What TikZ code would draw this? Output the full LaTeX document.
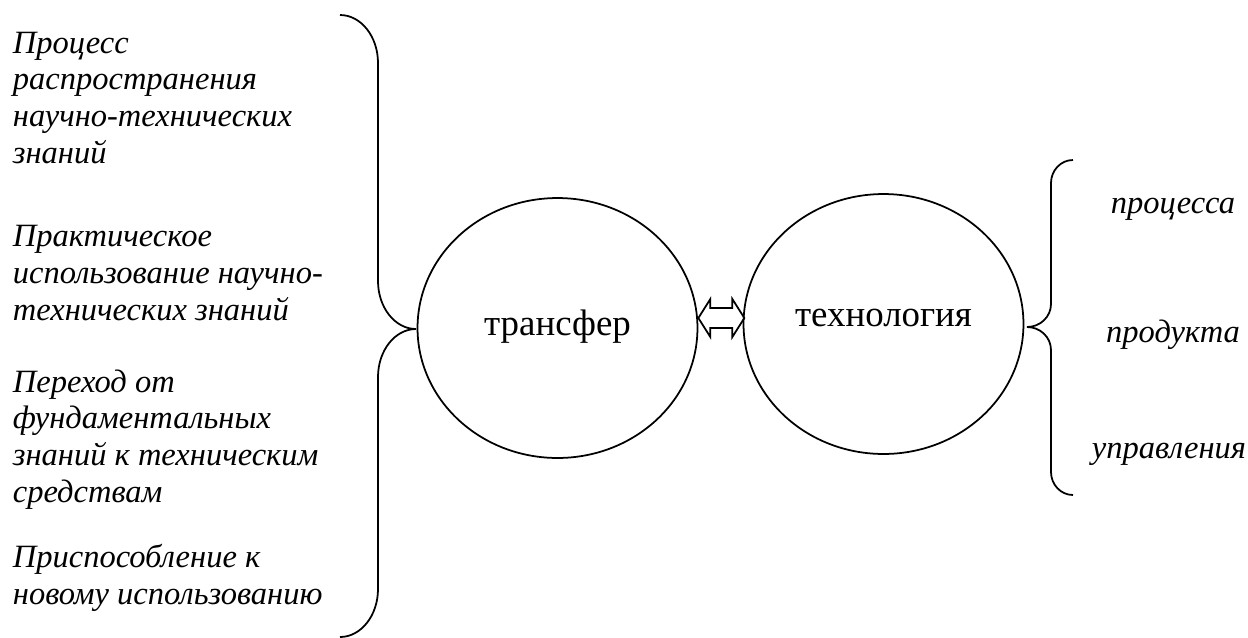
\documentclass[tikz,border=0pt]{standalone}
\usepackage{fontspec}
\setmainfont{Liberation Serif}
\usetikzlibrary{calc,shapes.geometric}
\tikzset{
  bubble/.style={draw, ellipse, minimum width=5.6cm, minimum height=5.2cm, inner sep=0pt, font=\fontsize{21}{25}\selectfont},
  sidetext/.style={font=\fontsize{18.5}{20.8}\selectfont\itshape, align=left, inner sep=0pt, anchor=base west},
  kindtext/.style={font=\fontsize{18.5}{20.8}\selectfont\itshape, inner sep=0pt, anchor=base},
}

\begin{document}
\begin{tikzpicture}[x=0.02cm, y=-0.02cm, line width=1pt]
		%%%%% START %%%%%
		\useasboundingbox (0,0) rectangle (1248,637);
		
		\node[bubble] (tr) at (557.5,328) {\raisebox{0.22cm}{трансфер}};
		\node[bubble] (th) at (883.5,324) {\raisebox{0.24cm}{технология}};
		
		% left column (anchored at the last line)
		\node[sidetext] (p1) at (12,163) {Процесс\\распространения\\научно-технических\\знаний};
		\node[sidetext] (p2) at (12,320) {Практическое\\использование научно-\\технических знаний};
		\node[sidetext] (p3) at (12,502) {Переход от\\фундаментальных\\знаний к техническим\\средствам};
		\node[sidetext] (p4) at (12,604) {Приспособление к\\новому использованию};
		
		% right column
		\node[kindtext] (k1) at (1173,213) {процесса};
		\node[kindtext] (k2) at (1173,342) {продукта};
		\node[kindtext] (k3) at (1169,458) {управления};
		
		% left brace
		\draw (340,15) arc[start angle=-90, end angle=0, x radius=38, y radius=48]
			-- (378,281) arc[start angle=180, end angle=90, x radius=38, y radius=48] coordinate (ltip)
			arc[start angle=-90, end angle=-180, x radius=38, y radius=48]
			-- (378,589) arc[start angle=0, end angle=90, x radius=38, y radius=48];
		
		% right brace
		\draw (1073,160) arc[start angle=-90, end angle=-180, x radius=22, y radius=23]
			-- (1051,304) arc[start angle=0, end angle=90, x radius=24, y radius=23] coordinate (rtip)
			arc[start angle=-90, end angle=0, x radius=24, y radius=23]
			-- (1051,472) arc[start angle=180, end angle=90, x radius=22, y radius=23];
		
		% double arrow
		\draw ($(tr.east)+(0,-10)$) -- ++(12,-19) -- ++(0,9) -- ++(22,0) -- ++(0,-9)
			-- ++(12,19) -- ++(-12,19) -- ++(0,-9) -- ++(-22,0) -- ++(0,9) -- cycle;
		
		%%%%% END %%%%%
\end{tikzpicture}
\end{document}
